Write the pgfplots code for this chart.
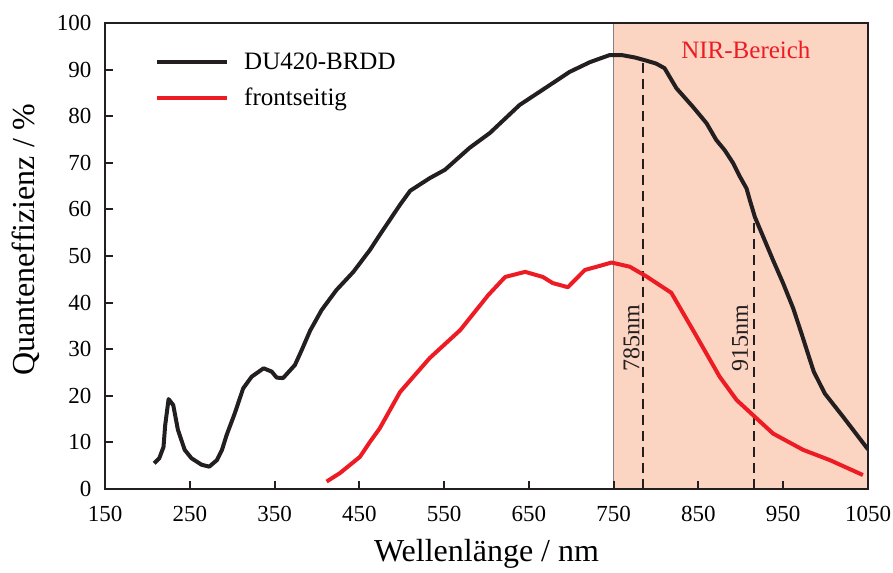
\documentclass[border=0pt]{standalone}
\usepackage{fontspec}
\setmainfont{Liberation Serif}
\usepackage{pgfplots}
\pgfplotsset{compat=1.18}
\definecolor{curveblack}{RGB}{35,31,32}
\definecolor{curvered}{RGB}{237,28,36}
\definecolor{nirfill}{RGB}{251,212,194}
\begin{document}
\begin{tikzpicture}
\begin{axis}[
  scale only axis, width=763pt, height=466pt,
  xmin=150, xmax=1050, ymin=0, ymax=100,
  xtick={150,250,...,1050}, ytick={0,10,...,100},
  extra x ticks={785,915}, extra x tick labels={},
  tick pos=left, tick align=inside,
  major tick length=8pt,
  tick style={line width=2pt, color=curveblack},
  axis line style={line width=2.8pt, color=curveblack},
  axis on top,
  /pgf/number format/assume math mode=true,
  /pgf/number format/1000 sep={},
  tick label style={font=\fontsize{23}{27}\selectfont},
  xticklabel style={yshift=-14pt},
  yticklabel style={xshift=-10pt},
  xlabel={Wellenlänge / nm}, ylabel={Quanteneffizienz / \%},
  label style={font=\fontsize{32}{38}\selectfont},
  xlabel style={yshift=-10pt},
  ylabel style={yshift=10pt, xshift=16pt},
  legend style={at={(axis description cs:0,1)}, anchor=north west, xshift=47pt, yshift=-26pt,
    draw=none, fill=none, font=\fontsize{25}{29}\selectfont, row sep=13pt,
    /tikz/every odd column/.append style={column sep=13pt}},
  legend cell align=left,
  legend image code/.code={\draw[#1] (0pt,0pt) -- (70pt,0pt);},
]
\addplot[fill=nirfill, draw=none, forget plot] coordinates {(750,0)(1050,0)(1050,100)(750,100)} -- cycle;
\addplot[gray, line width=0.8pt, forget plot] coordinates {(750,0)(750,100)};
\addplot[curveblack, line width=2pt, dash pattern=on 10pt off 6pt, forget plot] coordinates {(785,0)(785,92)};
\addplot[curveblack, line width=2pt, dash pattern=on 10pt off 6pt, forget plot] coordinates {(915,0)(915,59)};
\addplot[curveblack, line width=4pt, line join=round] coordinates {
(208,5.5)(214,6.6)(219,9)(221,13.7)(225,19.3)(230.5,18)(236,12.7)(244,8.4)(252,6.6)(264,5.2)(273,4.8)(282,6.2)(288,8.4)(293.5,11.6)(303,16.2)(313,21.6)(323,24.1)(337,25.9)(346.6,25.2)(352.5,23.9)(360,23.8)(374,26.6)(382,29.8)(392,34)(405.5,38.4)(423,42.7)(443,46.6)(462.5,51.3)(474,54.5)(498,61)(510,64)(533,66.7)(551,68.5)(580,73.2)(604,76.4)(639,82.4)(669,86)(698,89.5)(722,91.6)(745,93.1)(760,93.1)(775,92.6)(787,92)(800,91.3)(810,90.3)(824,86)(843.5,82)(859.5,78.5)(871,74.9)(881,72.7)(891,69.9)(899,67)(906.7,64.5)(910.6,62)(916.5,58.4)(938,49.1)(950,44.1)(961.7,38.8)(971.5,33.4)(981,28)(986,25.2)(999,20.5)(1020.6,15.5)(1050,8.5)};
\addlegendentry{DU420-BRDD}
\addplot[curvered, line width=4pt, line join=round] coordinates {
(411.4,1.6)(427,3.4)(450.7,6.9)(462.5,10.1)(474,13)(498,20.8)(533,28.1)(569,34.1)(602,41.6)(622,45.5)(645.6,46.6)(666.5,45.5)(678,44.2)(696,43.3)(716,47)(734,47.9)(747.5,48.6)(769,47.7)(788.8,45.6)(818,42.1)(845.8,33.4)(875,24.1)(895,19.1)(916.5,15.5)(938,11.9)(973.5,8.4)(1005,6.2)(1044,3)};
\addlegendentry{frontseitig}
\node[rotate=90, font=\fontsize{24}{28}\selectfont, text=curveblack] at (axis cs:771,32.4) {785nm};
\node[rotate=90, font=\fontsize{24}{28}\selectfont, text=curveblack] at (axis cs:899,32.4) {915nm};
\node[font=\fontsize{25}{29}\selectfont, text=curvered] at (axis cs:906,94.2) {NIR-Bereich};
\end{axis}
\pgfresetboundingbox
\path[use as bounding box] ([shift={(-105pt,-83pt)}]current axis.south west) rectangle ([shift={(25pt,23pt)}]current axis.north east);
\end{tikzpicture}
\end{document}
